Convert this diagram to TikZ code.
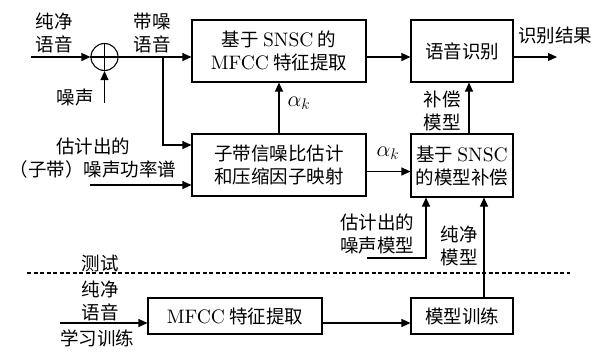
\RequirePackage{fix-cm}
\documentclass[tikz,border=0pt]{standalone}
\usepackage{fontspec}
\newfontfamily\cjk{Noto Sans CJK SC}
\newfontfamily\lmten{lmroman10-regular}[Extension=.otf]
\usetikzlibrary{arrows.meta}
\newcommand{\lm}[1]{{\lmten\fontsize{19.5}{23}\selectfont #1}}
\begin{document}
\begin{tikzpicture}[x=1pt,y=-1pt,
  every node/.style={font=\cjk\fontsize{18.5}{23}\selectfont, inner sep=0pt, align=center},
  blk/.style={draw, line width=1.1pt, minimum width=174pt, minimum height=62pt},
  sblk/.style={draw, line width=1.1pt, minimum width=102pt, minimum height=62pt},
  conn/.style={line width=1.1pt},
  arr/.style={conn, -{Triangle[length=9pt,width=8pt]}},
  alab/.style={font=\fontsize{22}{26}\selectfont}]
\useasboundingbox (0,0) rectangle (607,351);
% blocks
\node[blk] (b1) at (279,51) {基于 \lm{SNSC} 的\\\lm{MFCC} 特征提取};
\node[sblk] (b2) at (462,51) {语音识别};
\node[blk] (b3) at (279,165) {子带信噪比估计\\和压缩因子映射};
\node[sblk, minimum height=63pt] (b4) at (462,165.5) {基于 \lm{SNSC}\\的模型补偿};
\node[blk, minimum height=36pt] (b5) at (235,316) {\lm{MFCC} 特征提取};
\node[sblk, minimum height=36pt] (b6) at (462,316) {模型训练};
% summation
\node[draw, circle, line width=1.1pt, minimum size=27pt] (sum) at (104.5,57) {};
\draw[conn] (sum.north) -- (sum.south);
\draw[conn] (sum.west) -- (sum.east);
% labels
\node (l1) at (54,33) {纯净\\语音};
\node (l2) at (152,33) {带噪\\语音};
\node (l3) at (75,97) {噪声};
\node (l4) at (555,35) {识别结果};
\node (l5) at (442,111) {补偿\\模型};
\node (l6) at (93,158) {估计出的\\（子带）噪声功率谱};
\node (l7) at (377,234) {估计出的\\噪声模型};
\node (l8) at (459,246) {纯净\\模型};
\node (l9) at (100,263) {测试};
\node (l10) at (100,301) {纯净\\语音};
\node (l11) at (97,338) {学习训练};
\node[alab] (a1) at (299,103) {$\alpha_k$};
\node[alab] (a2) at (388,153) {$\alpha_k$};
% coordinates
\coordinate (in1) at (31,57);
\coordinate (nz) at (104.5,103);
\coordinate (br) at (163,57);
\coordinate (in2) at (90,185);
\coordinate (out) at (557,57);
\coordinate (nm) at (367,258);
\coordinate (in3) at (60,323);
\coordinate (d1) at (27,273);
\coordinate (d2) at (570,273);
% connectors
\draw[arr] (in1) -- (sum.west);
\draw[arr] (nz) -- (sum.south);
\draw[arr] (sum.east) -- (sum.east -| b1.west);
\draw[arr] (br) |- ([yshift=20pt]b3.west);
\draw[arr] (in2) -- (in2 -| b3.west);
\draw[arr] (b3.north) -- (b1.south);
\draw[arr] ([yshift=-6pt]b1.east) -- ([yshift=-6pt]b2.west);
\draw[arr] ([yshift=-6pt]b2.east) -- (out);
\draw[arr] ([yshift=-6.5pt]b3.east) -- ([yshift=-6.5pt]b3.east -| b4.west);
\draw[arr] ([xshift=7pt]b4.north) -- ([xshift=7pt]b2.south);
\draw[arr] (nm) -| ([xshift=-36pt]b4.south);
\draw[arr] ([xshift=22pt]b6.north) -- ([xshift=22pt]b4.south);
\draw[arr] (in3) -- (in3 -| b5.west);
\draw[arr] ([yshift=-7pt]b5.east) -- ([yshift=-7pt]b6.west);
\draw[line width=1.1pt, dash pattern=on 4pt off 2.5pt] (d1) -- (d2);
\end{tikzpicture}
\end{document}
